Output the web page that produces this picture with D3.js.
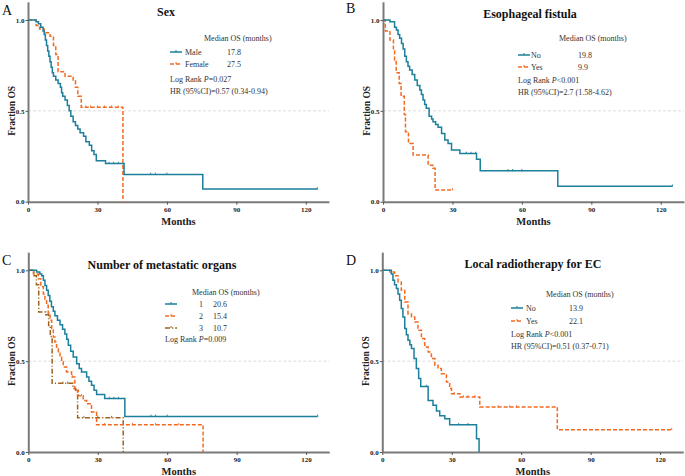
<!DOCTYPE html>
<html><head><meta charset="utf-8">
<script src="https://cdn.jsdelivr.net/npm/d3@7"></script>
<style>
body{margin:0;background:#fff;}
svg{display:block;font-family:"Liberation Serif","Times New Roman",serif;}
</style></head>
<body>
<svg id="chart" width="685" height="476"></svg>
<script>
// ---------------- DATA ----------------
const xTicks = [0, 30, 60, 90, 120];
const yTicks = [0, 0.5, 1.0];

// Panel A: Sex
const sexMaleT = [0,3.5,4.5,5.5,6.5,7,7.5,8,8.5,9,9.5,10,10.5,11,12,13,14,14.5,15,16,17,17.8,18.5,19.5,20.5,21.5,22.5,24,25,26.5,27.5,28.5,29.5,33.5,41.5,75.5];
const sexMaleS = [1,0.99,0.98,0.96,0.94,0.92,0.89,0.86,0.83,0.80,0.77,0.74,0.71,0.69,0.67,0.65,0.63,0.60,0.58,0.56,0.53,0.50,0.47,0.44,0.42,0.40,0.38,0.36,0.33,0.31,0.28,0.26,0.225,0.21,0.15,0.07];
const sexMaleEnd = 125;
const sexMaleCens = [35,37,39,53,55,60,125];
const sexFemaleT = [0,3.5,5,7,9.5,11,12,13,16,19.5,20.5,21.5,23,41];
const sexFemaleS = [1,0.97,0.95,0.93,0.91,0.86,0.81,0.715,0.69,0.665,0.63,0.58,0.52,0];
const sexFemaleEnd = 41;
const sexFemaleCens = [25,27,30,33,36,39];

// Panel B: Esophageal fistula
const fistNoT = [0,3,5,5.8,6.5,7.2,8,8.7,9.4,10.1,10.8,11.5,12.6,13.7,14.8,15.9,16.6,17.3,18,18.7,19.9,21,21.6,22.7,23.8,25.3,26.7,28.1,29.6,33.2,40.4,42,75.5];
const fistNoS = [1,0.99,0.96,0.945,0.92,0.9,0.87,0.84,0.80,0.77,0.745,0.725,0.70,0.67,0.64,0.615,0.59,0.56,0.535,0.514,0.47,0.455,0.44,0.425,0.41,0.376,0.34,0.32,0.284,0.265,0.233,0.17,0.085];
const fistNoEnd = 125;
const fistNoCens = [36,38,40,54,56,60,125];
const fistYesT = [0,1,3,4.5,5,5.7,7,7.8,9.2,9.7,11,13,19.5,21.5,22.5];
const fistYesS = [1,0.94,0.89,0.83,0.78,0.71,0.65,0.58,0.48,0.385,0.32,0.257,0.2,0.184,0.065];
const fistYesEnd = 30;
const fistYesCens = [30];

// Panel C: Number of metastatic organs
const met1T = [0,3.6,5,5.8,6.5,7.2,7.9,8.6,9.3,10,10.8,11.5,12.6,13.7,14.8,15.8,16.6,17.3,18.3,19.4,20.9,22,23,25.2,26.2,27.3,28.4,29.5,33,41.7];
const met1S = [1,0.99,0.98,0.97,0.945,0.917,0.89,0.862,0.83,0.80,0.775,0.75,0.725,0.70,0.675,0.65,0.62,0.587,0.555,0.523,0.486,0.46,0.44,0.413,0.39,0.367,0.34,0.316,0.294,0.196];
const met1End = 125;
const met1Cens = [35,37,39,53,55,60,125];
const met2T = [0,2.2,4.3,5.4,6.5,7.2,7.9,8.6,9.4,10.1,10.8,11.5,12.2,13,13.7,14.4,15.1,16.5,18.7,20.1,21.6,23.7,25.2,27.3,29.5,75.5];
const met2S = [1,0.98,0.954,0.91,0.87,0.84,0.807,0.765,0.725,0.68,0.633,0.605,0.578,0.55,0.523,0.495,0.468,0.44,0.413,0.34,0.31,0.284,0.266,0.22,0.15,0];
const met2End = 75.5;
const met2Cens = [19,23,33,45,55,65];
const met3T = [0,2.5,3.5,4.5,7.5,8.8,9.5,10.3,19.3,20.5,21.3,41];
const met3S = [1,0.97,0.92,0.77,0.755,0.69,0.635,0.378,0.35,0.33,0.189,0];
const met3End = 41;
const met3Cens = [15,17,24,30,36];

// Panel D: Local radiotherapy for EC
const rtNoT = [0,3.9,4.6,5.3,6.1,6.8,7.5,8.2,8.9,9.7,10.4,11.1,11.9,12.6,13.7,14.7,15.7,16.6,19.8,21.9,23.4,24.8,27,29.1,40.7,41.8];
const rtNoS = [1,0.98,0.945,0.92,0.9,0.87,0.835,0.79,0.743,0.68,0.645,0.615,0.59,0.57,0.514,0.46,0.404,0.36,0.284,0.257,0.225,0.2,0.183,0.15,0.073,0];
const rtNoEnd = 41.8;
const rtNoCens = [19,33,37];
const rtYesT = [0,3.2,5.3,6.8,8.2,9.7,11.1,12.6,14,15.4,16.9,18.3,19.8,21.2,22.7,24.1,25.5,27.7,29.1,29.9,33.5,42.1,75.6];
const rtYesS = [1,0.99,0.97,0.936,0.89,0.826,0.76,0.743,0.716,0.67,0.624,0.578,0.55,0.514,0.477,0.459,0.431,0.385,0.349,0.321,0.303,0.248,0.123];
const rtYesEnd = 125;
const rtYesCens = [31,35,37,40,50,55,58,125];

const panelLetters = ["A","B","C","D"];
const panelTitles = ["Sex","Esophageal fistula","Number of metastatic organs","Local radiotherapy for EC"];
const legendLabels = [["Male","Female"],["No","Yes"],["1","2","3"],["No","Yes"]];
const medianOS = [["17.8","27.5"],["19.8","9.9"],["20.6","15.4","10.7"],["13.9","22.1"]];
const logRankP = ["=0.027","<0.001","=0.009","<0.001"];
const hrText = ["HR (95%CI)=0.57 (0.34-0.94)","HR (95%CI)=2.7 (1.58-4.62)",null,"HR (95%CI)=0.51 (0.37-0.71)"];

// ---------------- STYLES / LAYOUT ----------------
const TEAL = "#1c7f9c", ORANGE = "#f26a21", BROWN = "#9c6420";
const styles = [
  {color: TEAL, dash: null},
  {color: ORANGE, dash: "4,2"},
  {color: BROWN, dash: "5,2,1.2,2"}
];
const seriesSets = [
  [[sexMaleT,sexMaleS,sexMaleEnd,sexMaleCens,0],[sexFemaleT,sexFemaleS,sexFemaleEnd,sexFemaleCens,1]],
  [[fistNoT,fistNoS,fistNoEnd,fistNoCens,0],[fistYesT,fistYesS,fistYesEnd,fistYesCens,1]],
  [[met1T,met1S,met1End,met1Cens,0],[met2T,met2S,met2End,met2Cens,1],[met3T,met3S,met3End,met3Cens,2]],
  [[rtNoT,rtNoS,rtNoEnd,rtNoCens,0],[rtYesT,rtYesS,rtYesEnd,rtYesCens,1]]
];
const layout = [
  {x0:28,  y0:201.7, title:[166,16], letter:[2,15],  med:[204,41], line:170, lab:185, val:227, row0:52, rowH:12, lr:82},
  {x0:383, y0:201.7, title:[530,18], letter:[346,13], med:[559,41], line:518, lab:531, val:578, row0:55, rowH:12, lr:83},
  {x0:28.3,y0:452,   title:[162,269],letter:[2,265], med:[192,295],line:165, lab:199, val:213, row0:304,rowH:12, lr:342},
  {x0:382.3,y0:452,  title:[533,268],letter:[346,265],med:[546,297],line:511, lab:526, val:569, row0:308,rowH:13, lr:337}
];
const PXM = 2.315, PXY = 181.7;

const svg = d3.select("#chart");

layout.forEach((L, i) => {
  const x = d3.scaleLinear().domain([0,130]).range([L.x0, L.x0 + 130*PXM]);
  const y = d3.scaleLinear().domain([0,1.1]).range([L.y0, L.y0 - 1.1*PXY]);
  const g = svg.append("g");

  // reference line at 0.5
  g.append("line").attr("x1", x(0)).attr("x2", x(130)).attr("y1", y(0.5)).attr("y2", y(0.5))
    .attr("stroke", "#d4d4d4").attr("stroke-width", 0.8).attr("stroke-dasharray", "3,2");

  // axes
  const xa = g.append("g").attr("transform", `translate(0,${y(0)})`)
    .call(d3.axisBottom(x).tickValues(xTicks).tickFormat(d3.format("d")).tickSize(3).tickSizeOuter(0).tickPadding(2));
  const ya = g.append("g").attr("transform", `translate(${x(0)},0)`)
    .call(d3.axisLeft(y).tickValues(yTicks).tickFormat(d3.format(".1f")).tickSize(2.5).tickSizeOuter(0).tickPadding(1));
  [xa, ya].forEach(a => {
    a.select(".domain").attr("stroke", "#7a7a7a").attr("stroke-width", 2);
    a.selectAll(".tick line").attr("stroke", "#555").attr("stroke-width", 1);
    a.selectAll(".tick text").attr("font-family", "Liberation Serif").attr("font-weight", "bold")
      .attr("font-size", 7).attr("fill", "#222");
  });

  // axis titles
  g.append("text").attr("x", x(65)).attr("y", L.y0 + 23).attr("text-anchor", "middle")
    .attr("font-weight", "bold").attr("font-size", 10.5).attr("fill", "#222").text("Months");
  g.append("text").attr("transform", `translate(${L.x0 - 13},${y(0.5)}) rotate(-90)`)
    .attr("text-anchor", "middle").attr("font-weight", "bold").attr("font-size", 9.5).attr("fill", "#222").text("Fraction OS");

  // title and letter
  g.append("text").attr("x", L.title[0]).attr("y", L.title[1]).attr("text-anchor", "middle")
    .attr("font-weight", "bold").attr("font-size", 12).attr("fill", "#111").text(panelTitles[i]);
  g.append("text").attr("x", L.letter[0]).attr("y", L.letter[1])
    .attr("font-size", 14).attr("fill", "#111").text(panelLetters[i]);

  // curves
  const line = d3.line().x(d => x(d[0])).y(d => y(d[1])).curve(d3.curveStepAfter);
  // draw later series first so first (teal) is under? draw in order
  seriesSets[i].slice().reverse().forEach(([T, S, end, cens, si]) => {
    const st = styles[si];
    const pts = T.map((t, k) => [t, S[k]]);
    pts.push([end, S[S.length - 1]]);
    g.append("path").datum(pts).attr("d", line).attr("fill", "none")
      .attr("stroke", st.color).attr("stroke-width", 1.5)
      .attr("stroke-dasharray", st.dash);
    // censor ticks
    const survAt = t => { let s = 1; T.forEach((tt, k) => { if (tt <= t) s = S[k]; }); return s; };
    g.selectAll(null).data(cens).enter().append("line")
      .attr("x1", d => x(d)).attr("x2", d => x(d))
      .attr("y1", d => y(survAt(d)) - 1.8).attr("y2", d => y(survAt(d)) + 0.5)
      .attr("stroke", st.color).attr("stroke-width", 0.9);
  });

  // legend
  const fs = 8;
  g.append("text").attr("x", L.med[0]).attr("y", L.med[1]).attr("font-size", fs).attr("fill", "#333")
    .text("Median OS (months)");
  legendLabels[i].forEach((lab, k) => {
    const st = styles[k];
    const cy = L.row0 + k * L.rowH;
    g.append("line").attr("x1", L.line).attr("x2", L.line + 12).attr("y1", cy).attr("y2", cy)
      .attr("stroke", st.color).attr("stroke-width", 1.5).attr("stroke-dasharray", st.dash);
    g.append("line").attr("x1", L.line + 6).attr("x2", L.line + 6).attr("y1", cy - 2).attr("y2", cy)
      .attr("stroke", st.color).attr("stroke-width", 1);
    g.append("text").attr("x", L.lab).attr("y", cy + 3).attr("font-size", fs).attr("fill", "#333").text(lab);
    g.append("text").attr("x", L.val).attr("y", cy + 3).attr("font-size", fs).attr("fill", "#333").text(medianOS[i][k]);
  });
  const lr = g.append("text").attr("x", L.line).attr("y", L.lr).attr("font-size", fs).attr("fill", "#333");
  lr.append("tspan").text("Log Rank ");
  lr.append("tspan").attr("font-style", "italic").text("P");
  lr.append("tspan").text(logRankP[i]);
  if (hrText[i]) {
    g.append("text").attr("x", L.line).attr("y", L.lr + 12).attr("font-size", fs).attr("fill", "#333").text(hrText[i]);
  }
});
</script>
</body></html>
